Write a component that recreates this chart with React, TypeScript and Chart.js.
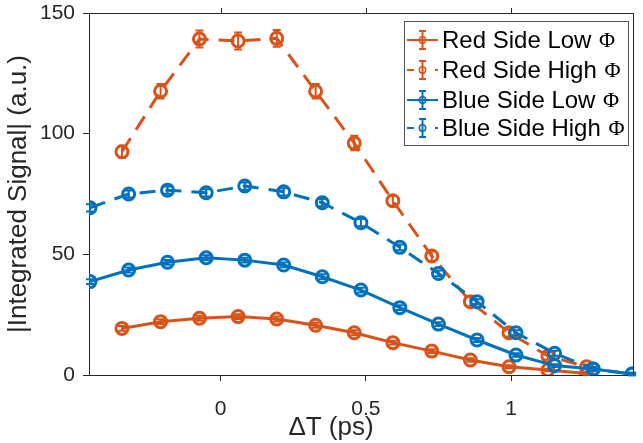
import React, { useEffect, useRef } from "react";
import { Chart, registerables } from "chart.js";

Chart.register(...registerables);

const redDelay = [-0.34, -0.207, -0.073, 0.06, 0.193, 0.327, 0.46, 0.593, 0.727, 0.86, 0.993, 1.127, 1.26];
const blueDelay = [-0.45, -0.317, -0.183, -0.05, 0.083, 0.217, 0.35, 0.483, 0.617, 0.75, 0.883, 1.017, 1.15, 1.283, 1.417];

const redLow = [19.3, 22.1, 23.5, 24.2, 23.2, 20.6, 17.5, 13.4, 9.9, 6.2, 3.4, 2.1, 0.6];
const redLowErr = [1, 1, 1, 1, 1, 1, 1, 0.8, 0.8, 0.7, 0.6, 0.5, 0.5];
const redHigh = [92.5, 117.6, 139.2, 138.4, 139.5, 117.6, 96.1, 72.2, 49.3, 30.4, 17.5, 7.9, 3.4];
const redHighErr = [2.5, 3, 3.5, 3.5, 3.5, 3, 3, 2, 2, 2, 1.5, 1.5, 1];
const blueLow = [38.7, 43.5, 46.7, 48.6, 47.6, 45.6, 40.7, 35.2, 27.9, 21.1, 14.5, 8.3, 3.9, 2.5, 0.4];
const blueLowErr = [1, 1, 1, 1, 1, 1, 1, 1, 1, 0.8, 0.8, 0.7, 0.6, 0.5, 0.5];
const blueHigh = [69.3, 75.0, 76.6, 75.5, 78.3, 75.9, 71.4, 63.1, 52.9, 42.1, 30.4, 17.5, 9.0, 2.5, 0.4];
const blueHighErr = [1.5, 1.5, 1.5, 1.5, 1.5, 1.5, 1.5, 1.5, 1.2, 1.2, 1, 1, 1, 0.8, 0.5];

const seriesNames = ["Red Side Low", "Red Side High", "Blue Side Low", "Blue Side High"];
const xTicks = [0, 0.5, 1];
const yTicks = [0, 50, 100, 150];
const xLabel = "ΔT (ps)";
const yLabel = "|Integrated Signal| (a.u.)";

const RED = "#D95319";
const BLUE = "#0072BD";
const AXIS = "#262626";
const SANS = "'Liberation Sans', Arial, sans-serif";
const SERIF = "'Liberation Serif', 'DejaVu Serif', serif";

const pts = (xs: number[], ys: number[]) => xs.map((x, i) => ({ x, y: ys[i] }));

const errorBarPlugin = {
  id: "errorBars",
  afterDatasetDraw(chart: any, args: any) {
    const ds = chart.data.datasets[args.index];
    const errs: number[] = ds.errors;
    if (!errs) return;
    const { ctx } = chart;
    const xs = chart.scales.x;
    const ys = chart.scales.y;
    ctx.save();
    ctx.strokeStyle = ds.borderColor;
    ctx.lineWidth = 2;
    ctx.setLineDash([]);
    ds.data.forEach((p: any, i: number) => {
      const px = xs.getPixelForValue(p.x);
      const top = ys.getPixelForValue(p.y + errs[i]);
      const bot = ys.getPixelForValue(p.y - errs[i]);
      ctx.beginPath();
      ctx.moveTo(px, top);
      ctx.lineTo(px, bot);
      ctx.moveTo(px - 4, top);
      ctx.lineTo(px + 4, top);
      ctx.moveTo(px - 4, bot);
      ctx.lineTo(px + 4, bot);
      ctx.stroke();
    });
    ctx.restore();
  },
};

const frameLegendPlugin = {
  id: "frameLegend",
  afterDraw(chart: any) {
    const { ctx, chartArea } = chart;
    const { left, right, top, bottom } = chartArea;
    ctx.save();
    // axes box
    ctx.strokeStyle = AXIS;
    ctx.lineWidth = 1;
    ctx.beginPath();
    ctx.moveTo(left, top + 0.5);
    ctx.lineTo(right, top + 0.5);
    ctx.moveTo(right - 0.5, top);
    ctx.lineTo(right - 0.5, bottom);
    ctx.stroke();
    // mirrored top ticks
    ctx.beginPath();
    xTicks.forEach((v) => {
      const px = Math.round(chart.scales.x.getPixelForValue(v)) + 0.5;
      ctx.moveTo(px, top);
      ctx.lineTo(px, top - 5);
    });
    ctx.stroke();

    // x label
    ctx.fillStyle = AXIS;
    ctx.font = `26px ${SANS}`;
    ctx.textAlign = "center";
    ctx.textBaseline = "middle";
    ctx.fillText(xLabel, 331, 428);

    // legend
    const bx = 404.5, by = 21.5, bw = 224, bh = 124;
    ctx.fillStyle = "#ffffff";
    ctx.fillRect(bx, by, bw, bh);
    ctx.strokeStyle = "#555555";
    ctx.lineWidth = 1;
    ctx.strokeRect(bx, by, bw, bh);
    const rows = [40, 70, 100, 128];
    const colors = [RED, RED, BLUE, BLUE];
    const dashed = [false, true, false, true];
    rows.forEach((ry, i) => {
      const c = colors[i];
      ctx.strokeStyle = c;
      ctx.lineWidth = 2;
      ctx.beginPath();
      if (dashed[i]) {
        ctx.moveTo(407, ry);
        ctx.lineTo(414, ry);
        ctx.moveTo(435, ry);
        ctx.lineTo(438, ry);
      } else {
        ctx.moveTo(407, ry);
        ctx.lineTo(438, ry);
      }
      ctx.stroke();
      ctx.beginPath();
      ctx.moveTo(422.5, ry - 9);
      ctx.lineTo(422.5, ry + 9);
      ctx.moveTo(419, ry - 9);
      ctx.lineTo(426, ry - 9);
      ctx.moveTo(419, ry + 9);
      ctx.lineTo(426, ry + 9);
      ctx.stroke();
      ctx.beginPath();
      ctx.lineWidth = 1.5;
      ctx.arc(422.5, ry, 3.2, 0, Math.PI * 2);
      ctx.stroke();
      ctx.fillStyle = "#000000";
      ctx.textAlign = "left";
      ctx.textBaseline = "middle";
      ctx.font = `24px ${SANS}`;
      const t = seriesNames[i] + " ";
      ctx.fillText(t, 442, ry + 1);
      const w = ctx.measureText(t).width;
      ctx.font = `22px ${SERIF}`;
      ctx.fillText("Φ", 442 + w + 1, ry + 1);
    });
    ctx.restore();
  },
};

export default function App() {
  const ref = useRef<HTMLCanvasElement>(null);
  useEffect(() => {
    document.body.style.margin = "0";
    const canvas = ref.current;
    if (!canvas) return;
    const mk = (label: string, xs: number[], ys: number[], errs: number[], color: string, dash: boolean, order: number) => ({
      label,
      data: pts(xs, ys),
      errors: errs,
      borderColor: color,
      backgroundColor: "rgba(0,0,0,0)",
      borderWidth: 3,
      borderDash: dash ? [16, 10] : [],
      pointRadius: 6,
      pointBorderWidth: 3,
      pointBorderColor: color,
      pointBackgroundColor: "rgba(0,0,0,0)",
      showLine: true,
      tension: 0,
      order,
    });
    const chart = new Chart(canvas, {
      type: "scatter",
      data: {
        datasets: [
          mk(seriesNames[0], redDelay, redLow, redLowErr, RED, false, 3),
          mk(seriesNames[1], redDelay, redHigh, redHighErr, RED, true, 2),
          mk(seriesNames[2], blueDelay, blueLow, blueLowErr, BLUE, false, 1),
          mk(seriesNames[3], blueDelay, blueHigh, blueHighErr, BLUE, true, 0),
        ] as any,
      },
      options: {
        animation: false,
        responsive: false,
        layout: { padding: { top: 13, right: 3, left: 0, bottom: 0 } },
        plugins: { legend: { display: false }, tooltip: { enabled: false } },
        scales: {
          x: {
            type: "linear",
            min: -0.4535,
            max: 1.4235,
            afterBuildTicks: (s: any) => {
              s.ticks = xTicks.map((v) => ({ value: v }));
            },
            afterFit: (s: any) => {
              s.height = 68;
              s.paddingLeft = 0;
              s.paddingRight = 0;
            },
            ticks: {
              color: AXIS,
              font: { size: 21, family: SANS },
              padding: 16,
              maxRotation: 0,
              callback: (v: any) => String(v),
            },
            grid: { display: true, drawOnChartArea: false, drawTicks: true, tickLength: 6, tickColor: AXIS },
            border: { display: true, color: AXIS },
            title: { display: false },
          },
          y: {
            type: "linear",
            min: 0,
            max: 150,
            afterBuildTicks: (s: any) => {
              s.ticks = yTicks.map((v) => ({ value: v }));
            },
            afterFit: (s: any) => {
              s.width = 89;
              s.paddingTop = 0;
              s.paddingBottom = 0;
            },
            ticks: {
              color: AXIS,
              font: { size: 21, family: SANS },
              padding: 8,
              callback: (v: any) => String(v),
            },
            grid: { display: true, drawOnChartArea: false, drawTicks: true, tickLength: 6, tickColor: AXIS },
            border: { display: true, color: AXIS },
            title: {
              display: true,
              text: yLabel,
              color: AXIS,
              font: { size: 26, family: SANS },
              padding: { top: 3, bottom: 0 },
            },
          },
        },
      },
      plugins: [errorBarPlugin, frameLegendPlugin],
    });
    return () => chart.destroy();
  }, []);
  return (
    <div style={{ position: "fixed", left: 0, top: 0, width: 643, height: 443, background: "#fff" }}>
      <canvas ref={ref} width={643} height={443} style={{ display: "block" }} />
    </div>
  );
}
